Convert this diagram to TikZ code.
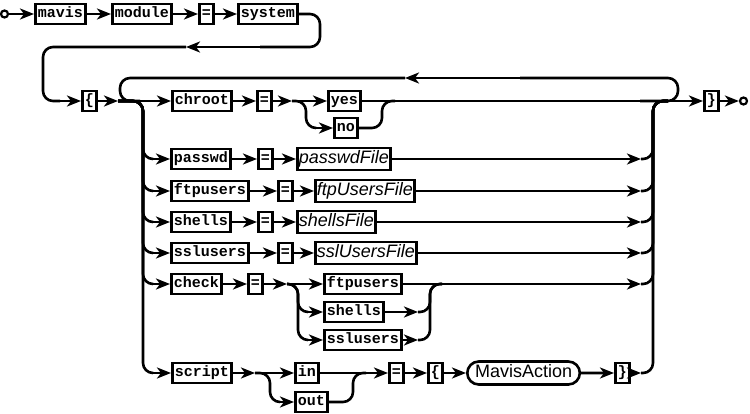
\documentclass[tikz,border=0pt]{standalone}
\usepackage{fontspec}
\setmainfont{Liberation Sans}
\newfontfamily\termfont{Liberation Mono}
\usetikzlibrary{arrows.meta,shapes.misc}
\tikzset{
  lw/.style={line width=2.6pt},
  term/.style={draw, lw, anchor=west, font=\termfont\bfseries\fontsize{15}{15}\selectfont,
    inner xsep=2.5pt, inner ysep=0pt, minimum height=20pt, text height=9pt, text depth=2.5pt},
  nonterm/.style={draw, lw, anchor=west, font=\itshape\fontsize{18}{18}\selectfont,
    inner xsep=1.5pt, inner ysep=0pt, minimum height=22pt, text height=13pt, text depth=4pt},
  action/.style={draw, lw, anchor=west, rounded rectangle, font=\fontsize{18}{18}\selectfont,
    inner xsep=4pt, inner ysep=0pt, minimum height=23pt, text height=13pt, text depth=4pt},
  endpt/.style={draw, line width=2.2pt, circle, inner sep=0pt, minimum size=7pt},
  arr/.style={-{Stealth[length=14pt 0 0,width=11pt 0,inset=4pt 0]}},
  rail/.style={lw},
  curvy/.style={lw, rounded corners=10pt},
}
\begin{document}
\begin{tikzpicture}[x=1pt,y=-1pt]
\useasboundingbox (0,0) rectangle (750,413);
% row 0
\node[endpt] (st) at (4.5,14) {};
\node[term] (mavis) at (34,14) {mavis};
\node[term] (module) at (111,14) {module};
\node[term] (eq0) at (198,14) {=};
\node[term] (system) at (237,14) {system};
\draw[rail,arr] (st) -- (mavis);
\draw[rail,arr] (mavis) -- (module);
\draw[rail,arr] (module) -- (eq0);
\draw[rail,arr] (eq0) -- (system);
\coordinate (m0) at (186,47);
\coordinate (k0) at (260,47);
\draw[curvy] (system.east) -- (320,14) -- (320,47) -- (k0);
\draw[rail,arr] (k0) -- (m0);
% row 1
\node[term] (lb) at (81,101) {\{};
\coordinate (k1) at (60,101);
\draw[curvy] (m0) -- (43,47) -- (43,101) -- (k1);
\draw[rail,arr] (k1) -- (lb);
\coordinate (J1) at (118,101);
\draw[rail,arr] (lb) -- (J1);
\node[term] (chroot) at (171,101) {chroot};
\node[term] (eq1) at (256,101) {=};
\coordinate (J2) at (292,101);
\node[term] (yes) at (327,101) {yes};
\node[term] (no) at (333,128) {no};
\node[term] (rb) at (703,101) {\}};
\node[endpt] (en) at (743.5,101) {};
\draw[rail,arr] (J1) -- (chroot);
\draw[rail,arr] (chroot) -- (eq1);
\draw[rail,arr] (eq1) -- (J2);
\draw[rail,arr] (J2) -- (yes);
\coordinate (k2) at (316,128);
\draw[curvy] (J2) -- (306,101) -- (306,128) -- (k2);
\draw[rail,arr] (k2) -- (no);
\draw[curvy] (no) -- (382,128) -- (382,101) -- (395,101);
\draw[rail,arr] (yes) -- (rb);
\draw[rail,arr] (rb) -- (en);
% loop
\coordinate (m1) at (405,78);
\coordinate (k3) at (520,78);
\draw[curvy] (640,101) -- (678,101) -- (678,78) -- (k3);
\draw[rail,arr] (k3) -- (m1);
\draw[curvy] (m1) -- (120,78) -- (120,101) -- (140,101);
% rows
\node[term] (passwd) at (170,159) {passwd};
\node[term] (eq2) at (257,159) {=};
\node[nonterm] (pf) at (296,159) {passwdFile};
\node[term] (ftpusers) at (170,191) {ftpusers};
\node[term] (eq3) at (277,191) {=};
\node[nonterm] (ff) at (314,191) {ftpUsersFile};
\node[term] (shells) at (170,222) {shells};
\node[term] (eq4) at (257,222) {=};
\node[nonterm] (sf) at (296,222) {shellsFile};
\node[term] (sslusers) at (170,253) {sslusers};
\node[term] (eq5) at (277,253) {=};
\node[nonterm] (slf) at (314,253) {sslUsersFile};
\node[term] (check) at (170,284) {check};
\node[term] (eq6) at (247,284) {=};
\coordinate (J3) at (287,284);
\node[term] (cftp) at (323,284) {ftpusers};
\node[term] (csh) at (323,312) {shells};
\node[term] (cssl) at (323,340) {sslusers};
\node[term] (script) at (171,373) {script};
\coordinate (J4) at (255,373);
\node[term] (in) at (294,373) {in};
\node[term] (out) at (294,402) {out};
\node[term] (eq7) at (388,373) {=};
\node[term] (lb2) at (427,373) {\{};
\node[action] (ma) at (466,373) {MavisAction};
\node[term] (rb2) at (614,373) {\}};
% drops
\foreach \n/\y in {passwd/159,ftpusers/191,shells/222,sslusers/253,check/284,script/373}{
  \coordinate (d\n) at (153,\y);
  \draw[curvy] (J1) -- (143,101) -- (143,\y) -- (d\n);
  \draw[rail,arr] (d\n) -- (\n);
}
% row connections
\draw[rail,arr] (passwd) -- (eq2);
\draw[rail,arr] (eq2) -- (pf);
\draw[rail,arr] (ftpusers) -- (eq3);
\draw[rail,arr] (eq3) -- (ff);
\draw[rail,arr] (shells) -- (eq4);
\draw[rail,arr] (eq4) -- (sf);
\draw[rail,arr] (sslusers) -- (eq5);
\draw[rail,arr] (eq5) -- (slf);
\draw[rail,arr] (check) -- (eq6);
\draw[rail,arr] (eq6) -- (J3);
\draw[rail,arr] (J3) -- (cftp);
\foreach \n/\y in {csh/312,cssl/340}{
  \coordinate (b\n) at (308,\y);
  \draw[curvy] (J3) -- (298,284) -- (298,\y) -- (b\n);
  \draw[rail,arr] (b\n) -- (\n);
}
\coordinate (s1) at (418,312);
\coordinate (s2) at (418,340);
\draw[rail,arr] (csh) -- (s1);
\draw[rail,arr] (cssl) -- (s2);
\draw[curvy] (s1) -- (430,312) -- (430,284) -- (442,284);
\draw[curvy] (s2) -- (430,340) -- (430,284) -- (442,284);
\draw[rail,arr] (script) -- (J4);
\draw[rail,arr] (J4) -- (in);
\coordinate (k4) at (280,402);
\draw[curvy] (J4) -- (270,373) -- (270,402) -- (k4);
\draw[rail,arr] (k4) -- (out);
\draw[curvy] (out) -- (353,402) -- (353,373) -- (366,373);
\draw[rail,arr] (in) -- (eq7);
\draw[rail,arr] (eq7) -- (lb2);
\draw[rail,arr] (lb2) -- (ma);
\draw[rail,arr] (ma) -- (rb2);
% merges on the right
\foreach \n/\y in {pf/159,ff/191,sf/222,slf/253,cftp/284,rb2/373}{
  \coordinate (e\n) at (641,\y);
  \draw[rail,arr] (\n) -- (e\n);
  \draw[curvy] (e\n) -- (653,\y) -- (653,101) -- (668,101);
}
\end{tikzpicture}
\end{document}
